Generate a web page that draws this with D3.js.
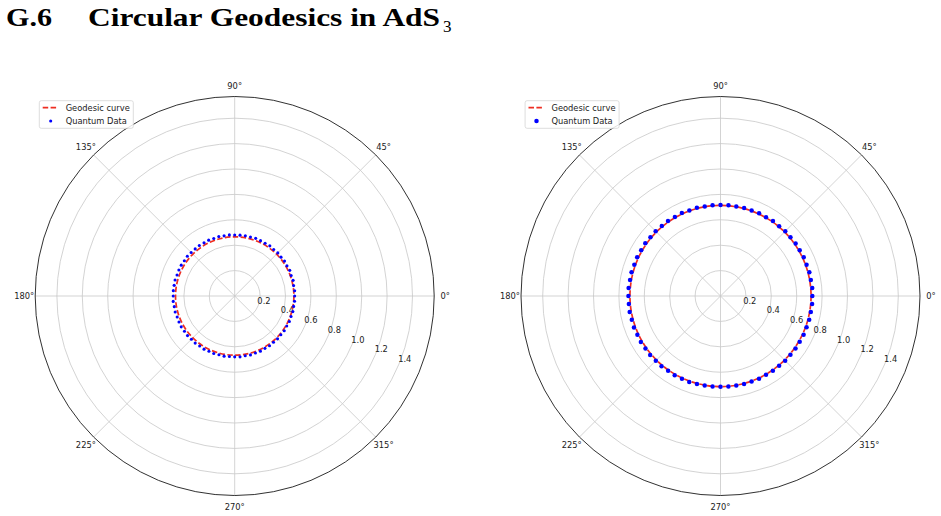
<!DOCTYPE html>
<html>
<head>
<meta charset="utf-8">
<script src="https://cdn.jsdelivr.net/npm/d3@7"></script>
<style>
  html, body { margin: 0; padding: 0; background: #fff; }
  svg { display: block; }
</style>
</head>
<body>
<svg id="chart" width="941" height="516"></svg>
<script>
// ---------------- data ----------------
const radialTicks = [0.2, 0.4, 0.6, 0.8, 1.0, 1.2, 1.4];
const radialTickLabels = ["0.2", "0.4", "0.6", "0.8", "1.0", "1.2", "1.4"];
const angleTicks = [0, 45, 90, 135, 180, 225, 270, 315];
const angleTickLabels = ["0°", "45°", "90°", "135°", "180°", "225°", "270°", "315°"];
const radialMax = Math.PI / 2;

const legendLabels = ["Geodesic curve", "Quantum Data"];

// angles (degrees) of the quantum data points
const quantumAngles = [
  0, 5, 10, 15, 20, 25, 30, 35, 40, 45, 50, 55, 60, 65, 70, 75, 80, 85,
  90, 95, 100, 105, 110, 115, 120, 125, 130, 135, 140, 145, 150, 155, 160, 165, 170, 175,
  180, 185, 190, 195, 200, 205, 210, 215, 220, 225, 230, 235, 240, 245, 250, 255, 260, 265,
  270, 275, 280, 285, 290, 295, 300, 305, 310, 315, 320, 325, 330, 335, 340, 345, 350, 355
];

// left panel
const geodesicRadiusLeft = 0.466;
const quantumRadiusLeft = [
  0.472, 0.474, 0.471, 0.476, 0.473, 0.478, 0.475, 0.479, 0.476, 0.480, 0.478, 0.482, 0.479, 0.481, 0.483, 0.480, 0.482, 0.481,
  0.480, 0.483, 0.481, 0.484, 0.482, 0.485, 0.483, 0.486, 0.484, 0.485, 0.487, 0.484, 0.486, 0.485, 0.483, 0.486, 0.484, 0.485,
  0.484, 0.486, 0.483, 0.485, 0.482, 0.484, 0.486, 0.483, 0.485, 0.482, 0.484, 0.481, 0.483, 0.480, 0.482, 0.479, 0.481, 0.478,
  0.479, 0.481, 0.478, 0.480, 0.477, 0.479, 0.476, 0.478, 0.475, 0.477, 0.474, 0.476, 0.473, 0.475, 0.472, 0.474, 0.471, 0.473
];

// right panel
const geodesicRadiusRight = 0.713;
const quantumRadiusRight = [
  0.723, 0.725, 0.722, 0.724, 0.721, 0.723, 0.720, 0.722, 0.719, 0.721, 0.718, 0.720, 0.717, 0.719, 0.716, 0.718, 0.715, 0.717,
  0.716, 0.718, 0.715, 0.719, 0.717, 0.720, 0.718, 0.721, 0.719, 0.722, 0.720, 0.723, 0.721, 0.724, 0.722, 0.725, 0.723, 0.726,
  0.725, 0.724, 0.726, 0.723, 0.725, 0.722, 0.724, 0.721, 0.723, 0.720, 0.722, 0.719, 0.721, 0.718, 0.720, 0.717, 0.716, 0.715,
  0.714, 0.716, 0.715, 0.717, 0.716, 0.718, 0.717, 0.719, 0.718, 0.720, 0.719, 0.721, 0.720, 0.722, 0.721, 0.723, 0.722, 0.724
];

// ---------------- drawing ----------------
const svg = d3.select("#chart");

// title
const title = svg.append("g").attr("font-family", "'Liberation Serif', 'Times New Roman', serif").attr("fill", "#000");
title.append("text").attr("x", 6).attr("y", 26).attr("font-size", 25).attr("font-weight", "bold")
  .attr("textLength", 46).attr("lengthAdjust", "spacingAndGlyphs").text("G.6");
title.append("text").attr("x", 88).attr("y", 26).attr("font-size", 25).attr("font-weight", "bold")
  .attr("textLength", 352).attr("lengthAdjust", "spacingAndGlyphs").text("Circular Geodesics in AdS");
title.append("text").attr("x", 443).attr("y", 31.5).attr("font-size", 17).text("3");

const R = 199.5;
const fontFamily = "'DejaVu Sans', sans-serif";
const fontSize = 8.3;

function drawPanel(cx, cy, geoR, qR, dotR) {
  const g = svg.append("g").attr("transform", `translate(${cx},${cy})`);
  const r = d3.scaleLinear().domain([0, radialMax]).range([0, R]);
  const a = d3.scaleLinear().domain([0, 360]).range([0, 2 * Math.PI]);
  const px = (rv, deg) => r(rv) * Math.cos(a(deg));
  const py = (rv, deg) => -r(rv) * Math.sin(a(deg));

  // radial grid circles
  g.selectAll("circle.grid").data(radialTicks).join("circle")
    .attr("class", "grid").attr("r", d => r(d))
    .attr("fill", "none").attr("stroke", "#c8c8c8").attr("stroke-width", 0.8);

  // angular spokes
  g.selectAll("line.spoke").data(angleTicks).join("line")
    .attr("class", "spoke")
    .attr("x1", 0).attr("y1", 0)
    .attr("x2", d => px(radialMax, d)).attr("y2", d => py(radialMax, d))
    .attr("stroke", "#c8c8c8").attr("stroke-width", 0.8);

  // outer spine
  g.append("circle").attr("r", r(radialMax)).attr("fill", "none")
    .attr("stroke", "#1a1a1a").attr("stroke-width", 0.9);

  // angle labels
  g.selectAll("text.alab").data(angleTicks).join("text")
    .attr("class", "alab")
    .attr("x", d => (R + 11) * Math.cos(a(d)))
    .attr("y", d => -(R + 11) * Math.sin(a(d)))
    .attr("text-anchor", "middle").attr("dominant-baseline", "central")
    .attr("font-family", fontFamily).attr("font-size", fontSize).attr("fill", "#222")
    .text((d, i) => angleTickLabels[i]);

  // radial labels at -22.5 degrees
  g.selectAll("text.rlab").data(radialTicks).join("text")
    .attr("class", "rlab")
    .attr("x", d => px(d, -22.5) - 0.8)
    .attr("y", d => py(d, -22.5) - 2)
    .attr("text-anchor", "start")
    .attr("font-family", fontFamily).attr("font-size", fontSize).attr("fill", "#222")
    .text((d, i) => radialTickLabels[i]);

  // geodesic curve (dashed)
  g.append("circle").attr("r", r(geoR)).attr("fill", "none")
    .attr("stroke", "#ee2e22").attr("stroke-width", 1.7)
    .attr("stroke-dasharray", "5.5,2.4");

  // quantum data points
  g.selectAll("circle.q").data(quantumAngles).join("circle")
    .attr("class", "q")
    .attr("cx", (d, i) => px(qR[i], d))
    .attr("cy", (d, i) => py(qR[i], d))
    .attr("r", dotR).attr("fill", "#0000ff");

  // legend
  const lg = g.append("g").attr("transform", "translate(-195.4,-195.3)");
  lg.append("rect").attr("x", 0).attr("y", 0).attr("width", 94).attr("height", 27.6)
    .attr("rx", 2).attr("fill", "#fff").attr("fill-opacity", 0.85)
    .attr("stroke", "#d4d4d4").attr("stroke-width", 0.8);
  lg.append("line").attr("x1", 3.4).attr("x2", 19).attr("y1", 7).attr("y2", 7)
    .attr("stroke", "#ee2e22").attr("stroke-width", 1.7).attr("stroke-dasharray", "5.5,2.4");
  lg.append("circle").attr("cx", 11.4).attr("cy", 20.3).attr("r", dotR).attr("fill", "#0000ff");
  lg.selectAll("text").data(legendLabels).join("text")
    .attr("x", 26.4).attr("y", (d, i) => 7 + i * 13.3)
    .attr("dominant-baseline", "central")
    .attr("font-family", fontFamily).attr("font-size", fontSize).attr("fill", "#222")
    .text(d => d);
}

drawPanel(234.7, 296, geodesicRadiusLeft, quantumRadiusLeft, 1.55);
drawPanel(720.5, 296, geodesicRadiusRight, quantumRadiusRight, 2.25);
</script>
</body>
</html>
